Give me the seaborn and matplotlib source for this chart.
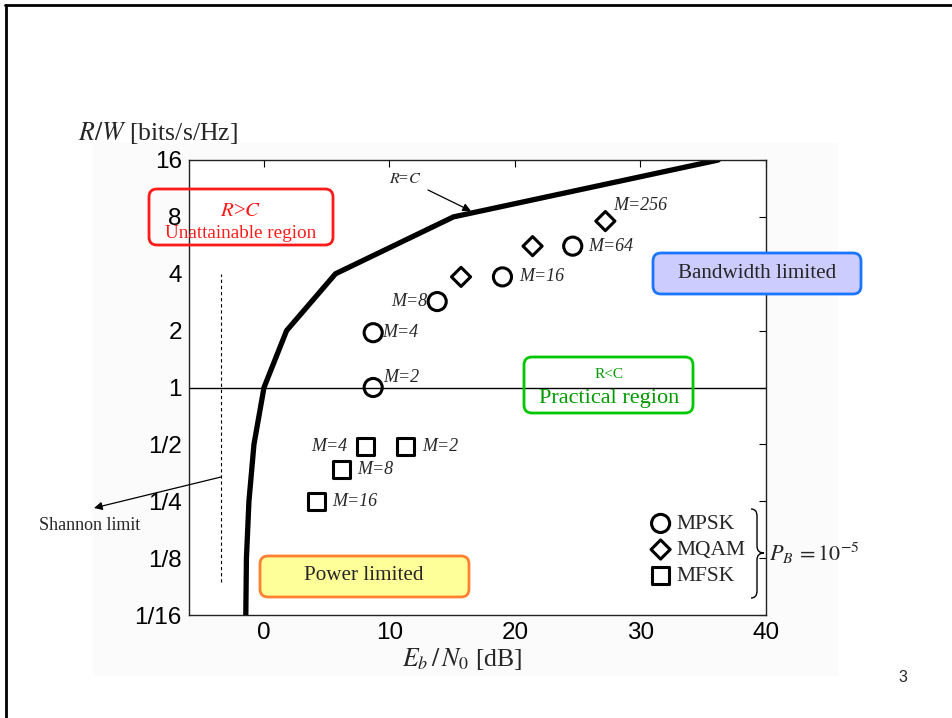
import numpy as np
import pandas as pd
import seaborn as sns
import matplotlib.pyplot as plt
from matplotlib.patches import FancyBboxPatch, Rectangle, PathPatch
from matplotlib.path import Path
from matplotlib.lines import Line2D

# capacity boundary R = C
cap_rw = [1/16, 1/8, 1/4, 1/2, 1, 2, 4, 8, 16]
cap_ebno = [-1.45, -1.4, -1.2, -0.8, 0.0, 1.8, 5.7, 15.1, 36.2]

# MPSK points
psk_labels = ['M=2', 'M=4', 'M=8', 'M=16', 'M=64']
psk_ebno = [8.7, 8.7, 13.8, 19.0, 24.6]
psk_rw = [1.0, 1.95, 2.85, 3.85, 5.6]

# MQAM points
qam_labels = ['', '', 'M=256']
qam_ebno = [15.7, 21.4, 27.2]
qam_rw = [3.85, 5.6, 7.6]

# MFSK points
fsk_labels = ['M=2', 'M=4', 'M=8', 'M=16']
fsk_ebno = [11.3, 8.05, 6.15, 4.2]
fsk_rw = [0.49, 0.49, 0.37, 0.248]

# Shannon limit marker line
shannon_x = -3.45
shannon_rw = [0.093, 4]

x_ticks = [0, 10, 20, 30, 40]
rw_ticks = [1/16, 1/8, 1/4, 1/2, 1, 2, 4, 8, 16]
rw_tick_labels = ['1/16', '1/8', '1/4', '1/2', '1', '2', '4', '8', '16']

sns.set_theme(style='white')
plt.rcParams['font.family'] = ['Liberation Serif', 'DejaVu Serif']
plt.rcParams['mathtext.fontset'] = 'stix'

W, H = 953, 718
fig = plt.figure(figsize=(W / 100, H / 100), dpi=100)
fig.patch.set_facecolor('white')
T = fig.dpi_scale_trans


def px(x, y):
    # figure pixel (from top left) -> inches
    return (x / 100, (H - y) / 100)


# slide frame + faint grey background
fig.add_artist(Line2D([0.05, 9.53], [H / 100 - 0.05] * 2, transform=T, color='black', lw=2))
fig.add_artist(Line2D([0.06, 0.06], [0, H / 100 - 0.05], transform=T, color='black', lw=2))
fig.add_artist(Rectangle(px(93, 675), 7.44, 5.32, transform=T, color='#fbfbfb', zorder=0))

ax = fig.add_axes([188.7 / W, 1 - 615 / H, (766 - 188.7) / W, (615 - 160) / H])
ax.set_facecolor('white')

# capacity curve
cap = pd.DataFrame({'ebno': cap_ebno, 'rw': cap_rw})
sns.lineplot(data=cap, x='ebno', y='rw', sort=False, color='black', lw=3.8, ax=ax)

ax.axhline(1, color='black', lw=1, zorder=1)
ax.plot([shannon_x, shannon_x], shannon_rw, color='black', ls='--', lw=0.8, dashes=(3, 2.5))

# scatter points
sns.scatterplot(x=psk_ebno, y=psk_rw, marker='o', s=170, color='black', facecolor='none',
                edgecolor='black', linewidth=2.2, ax=ax, label='MPSK', zorder=5)
sns.scatterplot(x=qam_ebno, y=qam_rw, marker='D', s=95, color='black', facecolor='none',
                edgecolor='black', linewidth=2.2, ax=ax, label='MQAM', zorder=5)
sns.scatterplot(x=fsk_ebno, y=fsk_rw, marker='s', s=150, color='black', facecolor='none',
                edgecolor='black', linewidth=2.2, ax=ax, label='MFSK', zorder=5)

lab_kw = dict(textcoords='offset pixels', fontsize=13, style='italic', va='center', annotation_clip=False)
psk_off = [(10, 10, 'left'), (9, 0, 'left'), (-10, 0, 'right'), (17, 0, 'left'), (15, 0, 'left')]
for lab, x, y, (dx, dy, ha) in zip(psk_labels, psk_ebno, psk_rw, psk_off):
    ax.annotate(lab, (x, y), xytext=(dx, dy), ha=ha, **lab_kw)
qam_off = [(0, 0, 'left'), (0, 0, 'left'), (8, 16, 'left')]
for lab, x, y, (dx, dy, ha) in zip(qam_labels, qam_ebno, qam_rw, qam_off):
    if lab:
        ax.annotate(lab, (x, y), xytext=(dx, dy), ha=ha, **lab_kw)
fsk_off = [(16, 0, 'left'), (-18, 0, 'right'), (16, 0, 'left'), (16, 0, 'left')]
for lab, x, y, (dx, dy, ha) in zip(fsk_labels, fsk_ebno, fsk_rw, fsk_off):
    ax.annotate(lab, (x, y), xytext=(dx, dy), ha=ha, **lab_kw)

# axes setup
ax.set_xlim(-6, 40)
ax.set_yscale('log', base=2)
ax.set_ylim(1/16, 16)
ax.set_xticks(x_ticks)
ax.set_yticks(rw_ticks)
ax.set_yticklabels(rw_tick_labels)
ax.minorticks_off()
ax.set_xlabel('')
ax.set_ylabel('')
ax.tick_params(direction='in', length=5, width=0.8, top=True, right=True, pad=5,
               labelsize=17.5, colors='black')
for lbl in ax.get_xticklabels() + ax.get_yticklabels():
    lbl.set_family('Liberation Sans')
for s in ax.spines.values():
    s.set_color('#222222')
    s.set_linewidth(1)

# legend
leg = ax.legend(loc='upper left', bbox_to_anchor=px(652, 514), bbox_transform=T,
                frameon=False, fontsize=15.5, borderpad=0, borderaxespad=0,
                handlelength=0.8, handletextpad=0.35, labelspacing=0.28)

# brace + P_B
bx = [(751, 509), (757, 509), (757, 516), (757, 546), (757, 553), (764, 553),
      (757, 553), (757, 560), (757, 591), (757, 598), (751, 598)]
codes = [Path.MOVETO, Path.CURVE3, Path.CURVE3, Path.LINETO, Path.CURVE3, Path.CURVE3,
         Path.CURVE3, Path.CURVE3, Path.LINETO, Path.CURVE3, Path.CURVE3]
fig.add_artist(PathPatch(Path([px(*p) for p in bx], codes), transform=T,
                         fc='none', ec='black', lw=1))
fig.text(*px(769, 553), r'$P_B\,=10^{-5}$', transform=T, fontsize=16, va='center', ha='left')

# R=C annotation
fig.text(*px(405, 179), r'$R$=$C$', transform=T, fontsize=11.5, ha='center', va='center')
ax.annotate('', xy=px(471, 211), xycoords=T, xytext=px(428, 190), textcoords=T,
            arrowprops=dict(arrowstyle='-|>', color='black', lw=0.9, mutation_scale=12,
                            shrinkA=0, shrinkB=0))

# Shannon limit
ax.annotate('', xy=px(94, 508), xycoords=T, xytext=px(221, 477), textcoords=T,
            arrowprops=dict(arrowstyle='-|>', color='black', lw=0.9, mutation_scale=12,
                            shrinkA=0, shrinkB=0))
fig.text(*px(90, 525), 'Shannon limit', transform=T, fontsize=13, ha='center', va='center')


def box(x0, y0, x1, y1, ec, fc):
    fig.add_artist(FancyBboxPatch(px(x0, y1), (x1 - x0) / 100, (y1 - y0) / 100,
                                  boxstyle='round,pad=0,rounding_size=0.08', transform=T,
                                  ec=ec, fc=fc, lw=2, zorder=6))


box(149, 189, 333, 245, '#ff1a1a', 'none')
fig.text(*px(241, 211), r'$R$>$C$', transform=T, fontsize=15, color='#ff1a1a', ha='center', va='center', zorder=7)
fig.text(*px(241, 234), 'Unattainable region', transform=T, fontsize=13.8, color='#ff1a1a',
         ha='center', va='center', zorder=7)

box(653, 253, 861, 294, '#1a75ff', '#ccccff')
fig.text(*px(757, 273), 'Bandwidth limited', transform=T, fontsize=15.2, ha='center', va='center', zorder=7)

box(524, 357, 693, 413, '#00c800', 'none')
fig.text(*px(609, 374), 'R<C', transform=T, fontsize=11, color='#009900', ha='center', va='center', zorder=7)
fig.text(*px(609, 398), 'Practical region', transform=T, fontsize=16, color='#009900',
         ha='center', va='center', zorder=7)

box(260, 556, 469, 597, '#ff8030', '#ffff99')
fig.text(*px(364, 576), 'Power limited', transform=T, fontsize=15.2, ha='center', va='center', zorder=7)

# axis titles
fig.text(*px(78, 133), r'$R/W$ [bits/s/Hz]', transform=T, fontsize=18.5, ha='left', va='center')
fig.text(*px(462, 659), r'$E_b\,/\,N_0$ [dB]', transform=T, fontsize=18.5, ha='center', va='center')

fig.text(*px(903, 678), '3', transform=T, fontsize=11.5, family='Liberation Sans', ha='center', va='center')

fig.savefig('out.png', dpi=100)
